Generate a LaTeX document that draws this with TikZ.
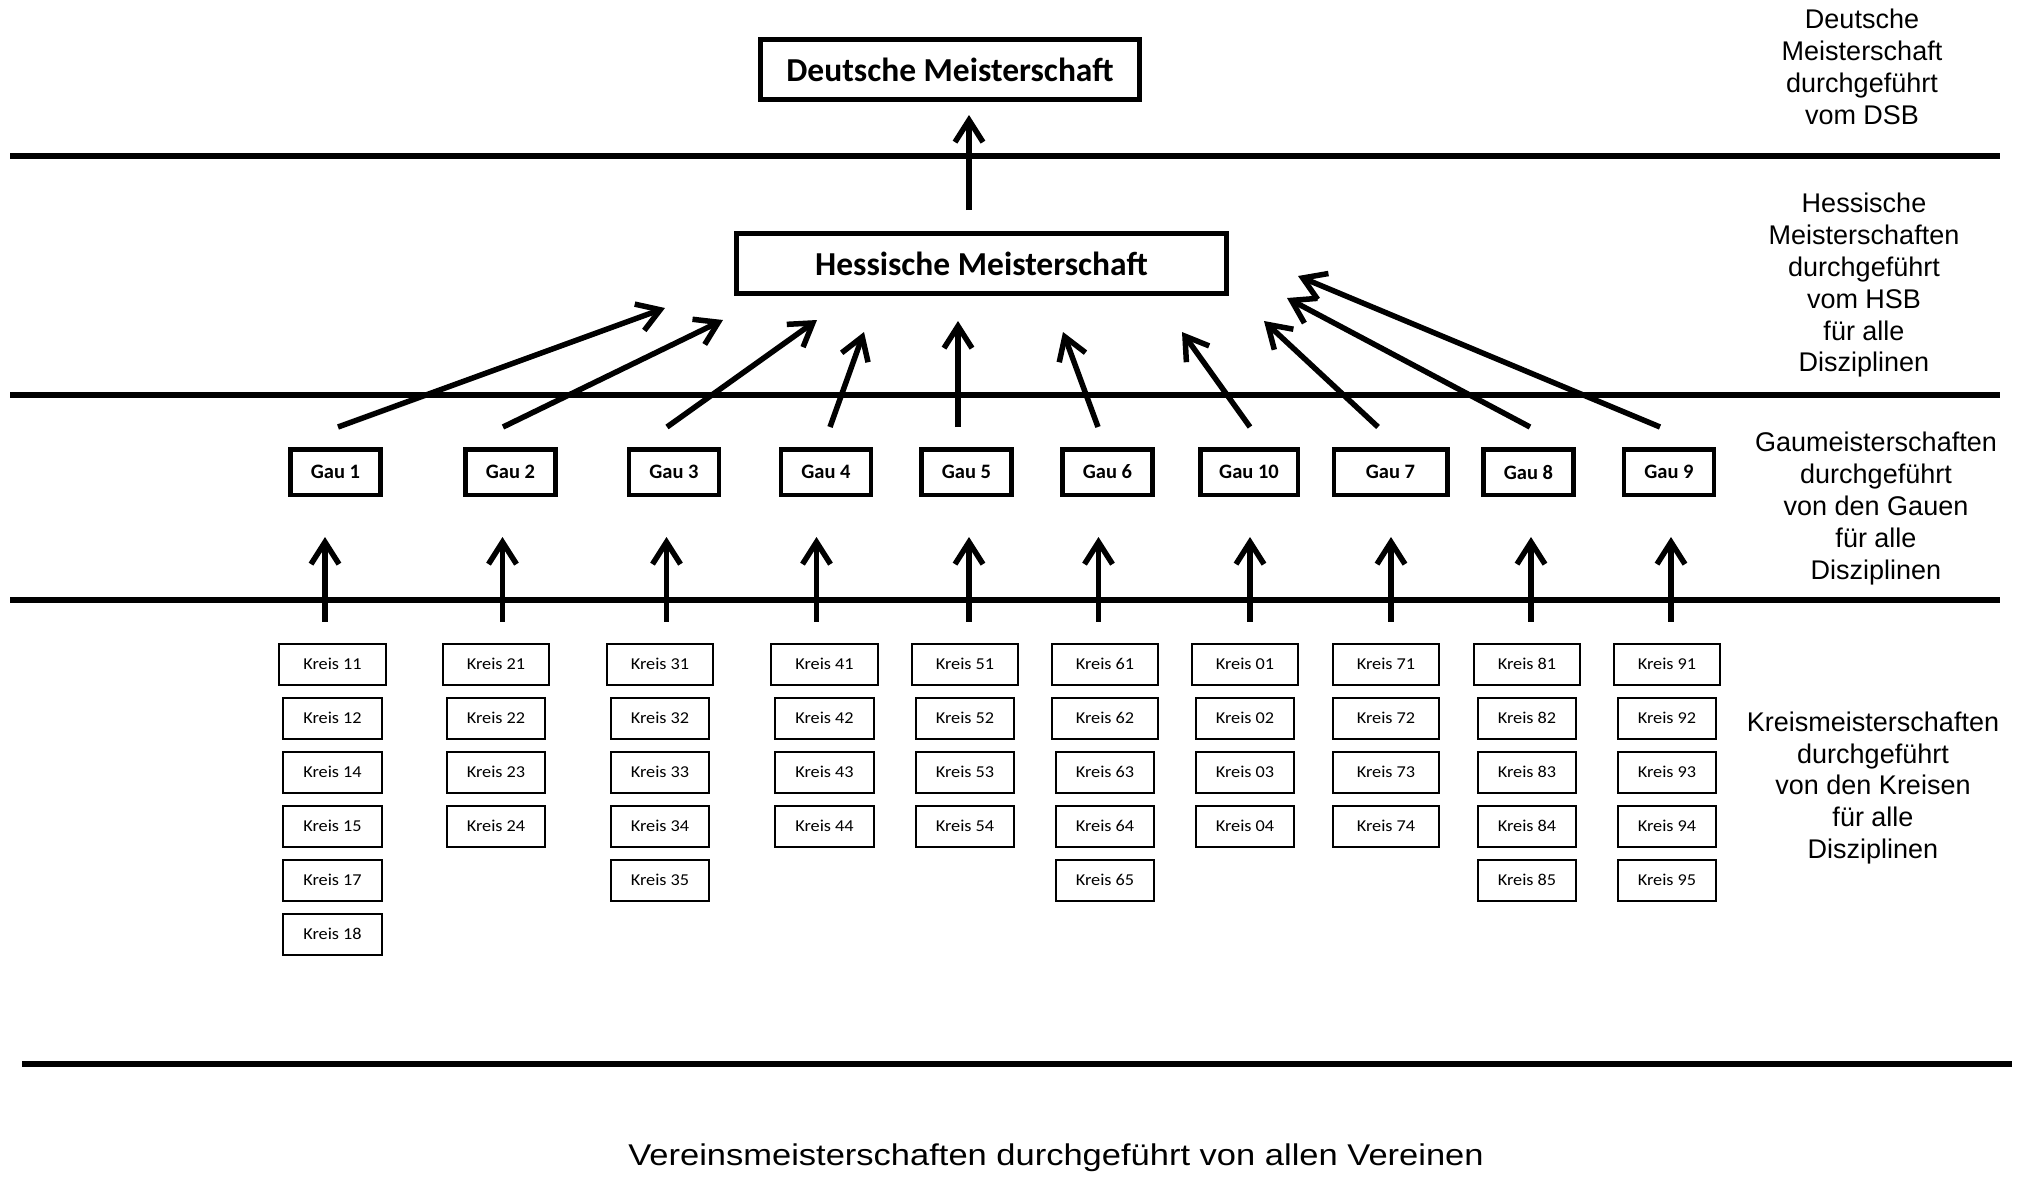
\documentclass[tikz,border=0pt]{standalone}
\usepackage{fontspec}
\setmainfont{Carlito}
\newfontfamily\arialfont{Liberation Sans}
\newfontfamily\widearialfont[FakeStretch=1.15]{Liberation Sans}
\newfontfamily\kreisfont[FakeStretch=1.1]{Carlito}
\usetikzlibrary{arrows.meta}

\begin{document}
\begin{tikzpicture}[x=1pt, y=-1pt,
    topbox/.style={draw, line width=5pt, minimum height=60pt, font=\fontsize{33.5}{40}\selectfont\bfseries},
    gau/.style={draw, line width=4.5pt, minimum width=90pt, minimum height=45.5pt, font=\fontsize{20.5}{24}\selectfont\bfseries},
    kreis/.style={draw, line width=2pt, minimum width=98.5pt, minimum height=41pt, font=\kreisfont\fontsize{16.6}{20}\selectfont},
    wide/.style={minimum width=106.5pt},
    sidetext/.style={align=center, font=\arialfont\fontsize{27}{31.8}\selectfont},
    sep/.style={line width=5.5pt},
    arr/.style={line width=5.5pt, -{Straight Barb[length=22pt, width=28pt]}}]
    \fill[white] (0,0) rectangle (2022,1176);

    % Level separators
    \draw[sep] (10,156) -- (2000,156);
    \draw[sep] (10,395) -- (2000,395);
    \draw[sep] (10,600) -- (2000,600);
    \draw[sep] (22,1064) -- (2012,1064);

    % Championships
    \node[topbox, minimum width=379pt] (dm) at (950,69.5) {Deutsche Meisterschaft};
    \node[topbox, minimum width=490pt] (hm) at (981.5,263.5) {Hessische Meisterschaft};

    % Gaue
    \node[gau] (g1) at (335.5,472) {Gau 1};
    \node[gau] (g2) at (510.5,472) {Gau 2};
    \node[gau] (g3) at (674,472) {Gau 3};
    \node[gau] (g4) at (826,472) {Gau 4};
    \node[gau] (g5) at (966.5,472) {Gau 5};
    \node[gau] (g6) at (1107.5,472) {Gau 6};
    \node[gau, minimum width=97.5pt] (g10) at (1249,472) {Gau 10};
    \node[gau, minimum width=113.5pt] (g7) at (1390.5,472) {Gau 7};
    \node[gau] (g8) at (1528.5,472) {Gau 8};
    \node[gau] (g9) at (1669,472) {Gau 9};

    % Kreise
    \node[kreis, wide] (k11) at (332.5,664) {Kreis 11}; \node[kreis] (k12) at (332.5,718) {Kreis 12}; \node[kreis] (k14) at (332.5,772) {Kreis 14};
    \node[kreis] (k15) at (332.5,826) {Kreis 15}; \node[kreis] (k17) at (332.5,880) {Kreis 17}; \node[kreis] (k18) at (332.5,934) {Kreis 18};

    \node[kreis, wide] (k21) at (496,664) {Kreis 21}; \node[kreis] (k22) at (496,718) {Kreis 22};
    \node[kreis] (k23) at (496,772) {Kreis 23}; \node[kreis] (k24) at (496,826) {Kreis 24};

    \node[kreis, wide] (k31) at (660,664) {Kreis 31}; \node[kreis] (k32) at (660,718) {Kreis 32}; \node[kreis] (k33) at (660,772) {Kreis 33};
    \node[kreis] (k34) at (660,826) {Kreis 34}; \node[kreis] (k35) at (660,880) {Kreis 35};

    \node[kreis, wide] (k41) at (824.5,664) {Kreis 41}; \node[kreis] (k42) at (824.5,718) {Kreis 42};
    \node[kreis] (k43) at (824.5,772) {Kreis 43}; \node[kreis] (k44) at (824.5,826) {Kreis 44};

    \node[kreis, wide] (k51) at (965,664) {Kreis 51}; \node[kreis] (k52) at (965,718) {Kreis 52};
    \node[kreis] (k53) at (965,772) {Kreis 53}; \node[kreis] (k54) at (965,826) {Kreis 54};

    \node[kreis, wide] (k61) at (1105,664) {Kreis 61}; \node[kreis, wide] (k62) at (1105,718) {Kreis 62}; \node[kreis] (k63) at (1105,772) {Kreis 63};
    \node[kreis] (k64) at (1105,826) {Kreis 64}; \node[kreis] (k65) at (1105,880) {Kreis 65};

    \node[kreis, wide] (k01) at (1245,664) {Kreis 01}; \node[kreis] (k02) at (1245,718) {Kreis 02};
    \node[kreis] (k03) at (1245,772) {Kreis 03}; \node[kreis] (k04) at (1245,826) {Kreis 04};

    \node[kreis, wide] (k71) at (1386,664) {Kreis 71}; \node[kreis, wide] (k72) at (1386,718) {Kreis 72};
    \node[kreis, wide] (k73) at (1386,772) {Kreis 73}; \node[kreis, wide] (k74) at (1386,826) {Kreis 74};

    \node[kreis, wide] (k81) at (1527,664) {Kreis 81}; \node[kreis] (k82) at (1527,718) {Kreis 82}; \node[kreis] (k83) at (1527,772) {Kreis 83};
    \node[kreis] (k84) at (1527,826) {Kreis 84}; \node[kreis] (k85) at (1527,880) {Kreis 85};

    \node[kreis, wide] (k91) at (1667,664) {Kreis 91}; \node[kreis] (k92) at (1667,718) {Kreis 92}; \node[kreis] (k93) at (1667,772) {Kreis 93};
    \node[kreis] (k94) at (1667,826) {Kreis 94}; \node[kreis] (k95) at (1667,880) {Kreis 95};

    % Level descriptions
    \node[sidetext] (t_dsb) at (1862,67) {Deutsche\\Meisterschaft\\durchgeführt\\vom DSB};
    \node[sidetext] (t_hsb) at (1864,285.5) {Hessische\\Meisterschaften\\durchgeführt\\vom HSB\\für alle\\Disziplinen};
    \node[sidetext] (t_gau) at (1876,508.5) {Gaumeisterschaften\\durchgeführt\\von den Gauen\\für alle\\Disziplinen};
    \node[sidetext] (t_kreis) at (1873,788) {Kreismeisterschaften\\durchgeführt\\von den Kreisen\\für alle\\Disziplinen};
    \node[anchor=base, font=\widearialfont\fontsize{30}{34}\selectfont] (t_verein) at (1056,1165) {Vereinsmeisterschaften durchgeführt von allen Vereinen};

    % Arrow tips below the Hessische Meisterschaft
    \coordinate (h1) at (665,308); \coordinate (h2) at (723,320); \coordinate (h3) at (817,320);
    \coordinate (h4) at (864,332); \coordinate (h5) at (958,321); \coordinate (h6) at (1063,332);
    \coordinate (h10) at (1182,332); \coordinate (h7) at (1264,321); \coordinate (h8) at (1287,298);
    \coordinate (h9) at (1298,276);

    % Arrows Gau -> Hessen -> Deutschland
    \draw[arr] ([xshift=-12.5pt,yshift=21pt]hm.north) -- ([xshift=19pt,yshift=-13pt]dm.south);
    \draw[arr] ([xshift=2.5pt,yshift=20pt]g1.north) -- (h1); \draw[arr] ([xshift=-7.5pt,yshift=20pt]g2.north) -- (h2);
    \draw[arr] ([xshift=-7pt,yshift=20pt]g3.north) -- (h3); \draw[arr] ([xshift=4pt,yshift=20pt]g4.north) -- (h4);
    \draw[arr] ([xshift=-8.5pt,yshift=20pt]g5.north) -- (h5); \draw[arr] ([xshift=-9.5pt,yshift=20pt]g6.north) -- (h6);
    \draw[arr] ([xshift=1pt,yshift=20pt]g10.north) -- (h10); \draw[arr] ([xshift=-12.5pt,yshift=20pt]g7.north) -- (h7);
    \draw[arr] ([xshift=1.5pt,yshift=20pt]g8.north) -- (h8); \draw[arr] ([xshift=-9pt,yshift=20pt]g9.north) -- (h9);

    % Arrows Kreis -> Gau
    \draw[arr] ([xshift=-7.5pt,yshift=21pt]k11.north) -- ([xshift=-7.5pt,yshift=-40pt]k11.north |- g1.south);
    \draw[arr] ([xshift=6.5pt,yshift=21pt]k21.north) -- ([xshift=6.5pt,yshift=-40pt]k21.north |- g2.south);
    \draw[arr] ([xshift=6.5pt,yshift=21pt]k31.north) -- ([xshift=6.5pt,yshift=-40pt]k31.north |- g3.south);
    \draw[arr] ([xshift=-8pt,yshift=21pt]k41.north) -- ([xshift=-8pt,yshift=-40pt]k41.north |- g4.south);
    \draw[arr] ([xshift=4pt,yshift=21pt]k51.north) -- ([xshift=4pt,yshift=-40pt]k51.north |- g5.south);
    \draw[arr] ([xshift=-6.5pt,yshift=21pt]k61.north) -- ([xshift=-6.5pt,yshift=-40pt]k61.north |- g6.south);
    \draw[arr] ([xshift=5pt,yshift=21pt]k01.north) -- ([xshift=5pt,yshift=-40pt]k01.north |- g10.south);
    \draw[arr] ([xshift=5pt,yshift=21pt]k71.north) -- ([xshift=5pt,yshift=-40pt]k71.north |- g7.south);
    \draw[arr] ([xshift=4pt,yshift=21pt]k81.north) -- ([xshift=4pt,yshift=-40pt]k81.north |- g8.south);
    \draw[arr] ([xshift=4pt,yshift=21pt]k91.north) -- ([xshift=4pt,yshift=-40pt]k91.north |- g9.south);
\end{tikzpicture}
\end{document}
